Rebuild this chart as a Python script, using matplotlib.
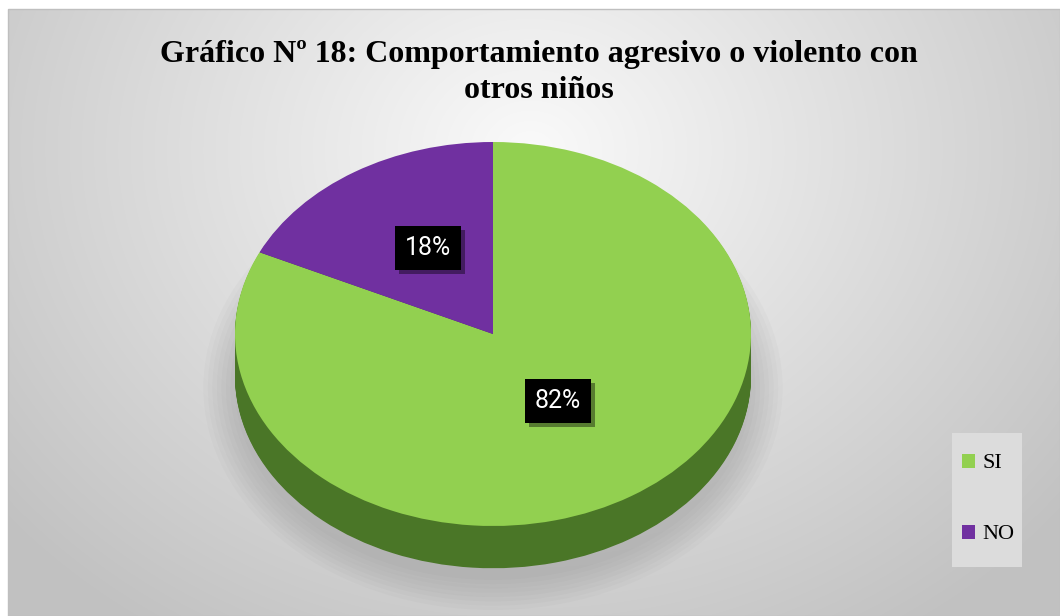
import matplotlib.pyplot as plt
import matplotlib.patheffects as pe
from matplotlib.patches import Ellipse, Rectangle
import numpy as np

categories = ['SI', 'NO']
values = [82, 18]
colours = ['#92d050', '#7030a0']
side_colours = ['#4a7627', '#4a2070']
title = 'Gráfico Nº 18: Comportamiento agresivo o violento con\notros niños'

W, H = 1060, 616
fig = plt.figure(figsize=(W / 100, H / 100), dpi=100)

# background with a soft radial gradient
bg = fig.add_axes([0, 0, 1, 1])
bg.set_xlim(0, W)
bg.set_ylim(H, 0)
bg.axis('off')
yy, xx = np.mgrid[0:H, 0:W]
r = np.sqrt(((xx - 530) / 620.0) ** 2 + ((yy - 150) / 520.0) ** 2)
shade = np.clip(0.98 - 0.2 * r, 0.76, 0.98)
img = np.dstack([shade, shade, shade])
bg.imshow(img[9:, 8:], extent=(8, W, H, 9), interpolation='bilinear')
bg.add_patch(Rectangle((8, 9), W - 8, H - 9, fill=False, edgecolor='#bfbfbf', lw=1))

# legend box
bg.add_patch(Rectangle((952, 433), 70, 134, facecolor='#dcdcdc', edgecolor='none'))

fig.text(0.508, 0.935, title, ha='center', va='top', fontsize=23, fontweight='bold',
         family='Liberation Serif', linespacing=1.3)

# pie axes: center (493, 334) px, rx 258, ry 192
cx, cy, rx, ry = 493, 334, 258, 192
aw, ah = 2.5 * rx, 2.5 * ry
ax = fig.add_axes([(cx - aw / 2) / W, 1 - (cy + ah / 2) / H, aw / W, ah / H])

depth = 0.22
# soft shadow under the pie
for k in range(8):
    ax.add_patch(Ellipse((0, -depth - 0.06), 2.0 + 0.035 * k, 2.0 + 0.045 * k,
                         facecolor='#6a6a6a', alpha=0.035, edgecolor='none',
                         zorder=0, clip_on=False))

# extruded side built from stacked pies
n_layers = 44
for i in range(n_layers):
    off = -depth + depth * i / n_layers
    ax.pie(values, colors=side_colours, startangle=90, counterclock=False,
           center=(0, off), wedgeprops=dict(linewidth=0, zorder=1 + i * 0.001))

wedges, texts, autotexts = ax.pie(values, colors=colours, startangle=90, counterclock=False,
                                  autopct='%1.0f%%', pctdistance=0.47,
                                  wedgeprops=dict(linewidth=0, zorder=2),
                                  textprops=dict(color='white', fontsize=18, family='Roboto'))
for t in autotexts:
    t.set_zorder(5)
    t.set_y(t.get_position()[1] + 0.05)  # perspective: labels sit a bit higher
    t.set_bbox(dict(facecolor='black', edgecolor='none', boxstyle='square,pad=0.4'))
    t.get_bbox_patch().set_path_effects([pe.SimplePatchShadow(offset=(3, -3), alpha=0.4),
                                         pe.Normal()])

ax.set_aspect('auto')
ax.set_xlim(-1.25, 1.25)
ax.set_ylim(-1.25, 1.25)
ax.axis('off')

leg = fig.legend(wedges, categories, loc='center', bbox_to_anchor=(988 / W, 1 - 499 / H),
                 frameon=False, handlelength=0.6, handleheight=0.6, handletextpad=0.3,
                 labelspacing=2.3, prop=dict(family='Liberation Serif', size=16))

plt.savefig('out.png', dpi=100)
